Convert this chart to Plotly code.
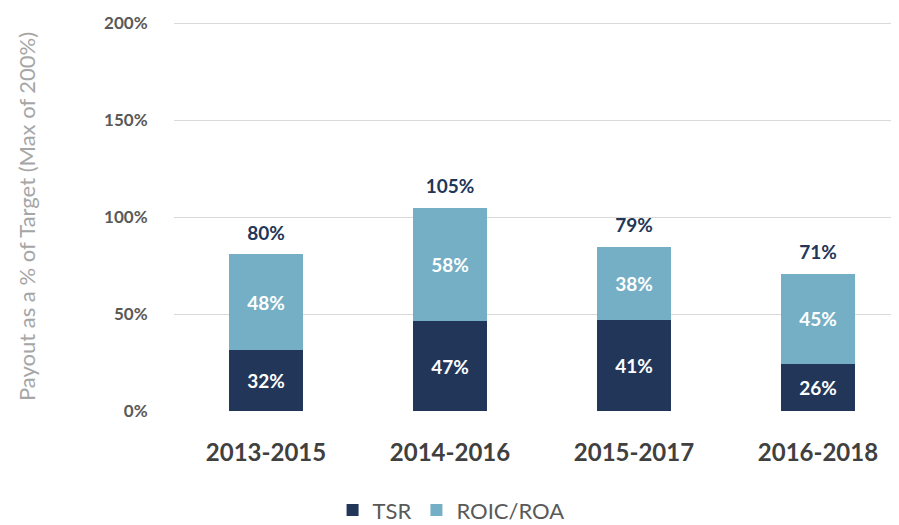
import plotly.graph_objects as go

categories = ["2013-2015", "2014-2016", "2015-2017", "2016-2018"]
tsr_values = [31.3, 46.4, 46.8, 24.4]
roic_values = [49.5, 58.4, 37.9, 46.4]
tsr_labels = ["32%", "47%", "41%", "26%"]
roic_labels = ["48%", "58%", "38%", "45%"]
total_labels = ["80%", "105%", "79%", "71%"]
y_ticks = [0, 50, 100, 150, 200]
y_tick_text = ["0%", "50%", "100%", "150%", "200%"]

DARK = "#213659"
LIGHT = "#74AFC5"
FONT = "Lato, 'Open Sans', sans-serif"

totals = [a + b for a, b in zip(tsr_values, roic_values)]

fig = go.Figure()
fig.add_trace(go.Bar(
    x=categories, y=tsr_values, name="TSR", marker=dict(color=DARK, line=dict(width=0)),
    text=tsr_labels, textposition="inside", insidetextanchor="middle", textangle=0,
    textfont=dict(color="white", size=19, family=FONT, weight="bold"),
))
fig.add_trace(go.Bar(
    x=categories, y=roic_values, name="ROIC/ROA", marker=dict(color=LIGHT, line=dict(width=0)),
    text=roic_labels, textposition="inside", insidetextanchor="middle", textangle=0,
    textfont=dict(color="white", size=19, family=FONT, weight="bold"),
))
fig.add_trace(go.Scatter(
    x=categories, y=totals, mode="markers+text", text=total_labels, textposition="top center",
    marker=dict(size=14, opacity=0),
    textfont=dict(color=DARK, size=19, family=FONT, weight="bold"),
    showlegend=False, hoverinfo="skip", cliponaxis=False,
))

fig.update_layout(
    width=899, height=525,
    margin=dict(l=166, r=0, t=14, b=122, autoexpand=False),
    barmode="stack", bargap=0.6,
    plot_bgcolor="white", paper_bgcolor="white",
    font=dict(family=FONT),
    showlegend=True,
    legend=dict(orientation="h", x=0.378, xanchor="center", y=-0.255, yanchor="middle",
                font=dict(size=22, color="#595959", family=FONT), traceorder="normal",
                itemwidth=30, borderwidth=0),
    uniformtext=dict(minsize=19, mode="show"),
)
fig.update_xaxes(
    range=[-0.5, 3.484], showgrid=False, zeroline=False, showline=False, automargin=False,
    ticks="outside", ticklen=20, tickcolor="white",
    tickfont=dict(size=24, color="#404040", family=FONT, weight="bold"),
)
fig.update_yaxes(
    range=[0, 200.6], tickvals=y_ticks, ticktext=y_tick_text, automargin=False,
    showgrid=True, gridcolor="#D9D9D9", gridwidth=1, zeroline=False, showline=False,
    ticks="outside", ticklen=22, tickcolor="white",
    tickfont=dict(size=17, color="#595959", family=FONT, weight="bold"),
    title=dict(text="Payout as a % of Target (Max of 200%)", standoff=62,
               font=dict(size=22, color="#A6A6A6", family=FONT)),
)

fig.write_html("out.html")
